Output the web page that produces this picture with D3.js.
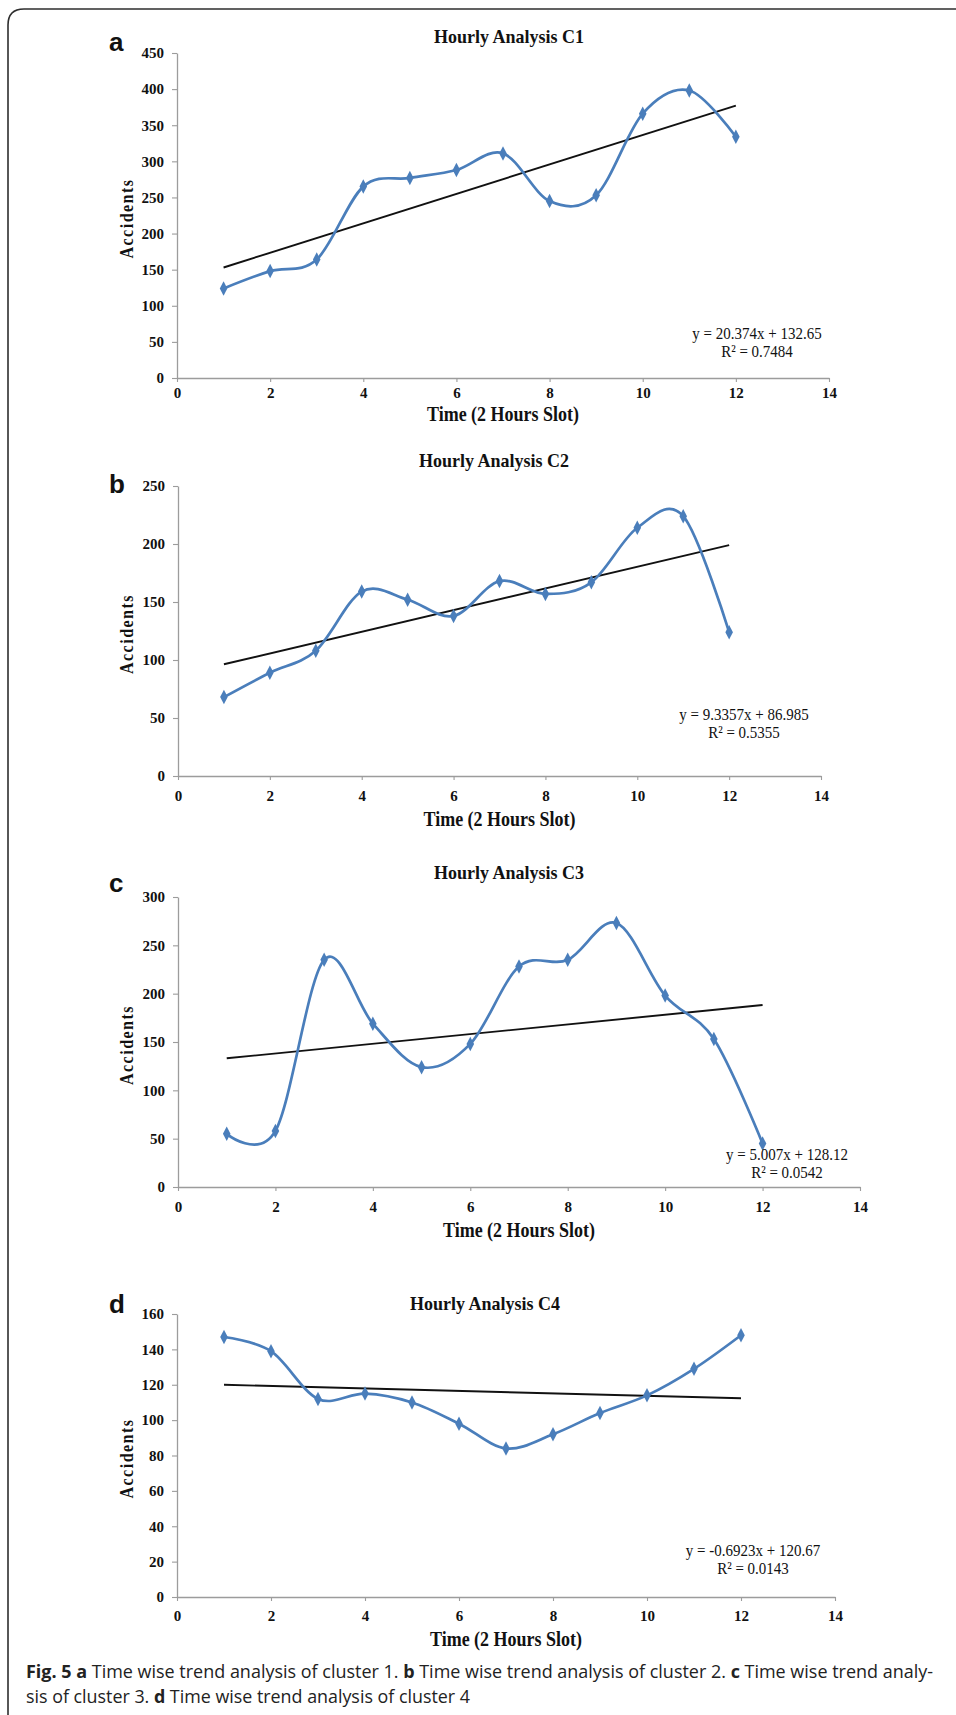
<!DOCTYPE html>
<html>
<head>
<meta charset="utf-8">
<script src="https://cdn.jsdelivr.net/npm/d3@7"></script>
<style>
  html, body { margin: 0; padding: 0; background: #fff; }
  svg { display: block; }
</style>
</head>
<body>
<svg id="chart" width="956" height="1715"></svg>
<script>
// ---------------- DATA ----------------
const slots = [1, 2, 3, 4, 5, 6, 7, 8, 9, 10, 11, 12];
const cluster1 = [124, 148, 164, 265, 277, 288, 311, 245, 253, 366, 398, 334];
const cluster2 = [68, 89, 108, 159, 152, 138, 168, 157, 167, 214, 224, 124];
const cluster3 = [55, 58, 235, 169, 124, 148, 228, 235, 273, 198, 153, 45];
const cluster4 = [147, 139, 112, 115, 110, 98, 84, 92, 104, 114, 129, 148];

const trendSlopes = [20.374, 9.3357, 5.007, -0.6923];
const trendIntercepts = [132.65, 86.985, 128.12, 120.67];
const equationLabels = ["y = 20.374x + 132.65", "y = 9.3357x + 86.985", "y = 5.007x + 128.12", "y = -0.6923x + 120.67"];
const r2Labels = ["R² = 0.7484", "R² = 0.5355", "R² = 0.0542", "R² = 0.0143"];

const panelLetters = ["a", "b", "c", "d"];
const panelTitles = ["Hourly Analysis C1", "Hourly Analysis C2", "Hourly Analysis C3", "Hourly Analysis C4"];
const xTicks = [0, 2, 4, 6, 8, 10, 12, 14];
const yTicks1 = [0, 50, 100, 150, 200, 250, 300, 350, 400, 450];
const yTicks2 = [0, 50, 100, 150, 200, 250];
const yTicks3 = [0, 50, 100, 150, 200, 250, 300];
const yTicks4 = [0, 20, 40, 60, 80, 100, 120, 140, 160];
const xTitle = "Time (2 Hours Slot)";
const yTitle = "Accidents";

const series = [cluster1, cluster2, cluster3, cluster4];
const yTickSets = [yTicks1, yTicks2, yTicks3, yTicks4];

// ---------------- LAYOUT (pixel geometry) ----------------
const layout = [
  { left: 177, right: 829, top: 53,   bottom: 378,  titleX: 509, titleY: 36,   letterY: 51,   eqX: 757, eqY: 333,  xLabPad: 5,  xTitleY: 414 },
  { left: 178, right: 821, top: 486,  bottom: 776,  titleX: 494, titleY: 460,  letterY: 493,  eqX: 744, eqY: 714,  xLabPad: 10, xTitleY: 819 },
  { left: 178, right: 860, top: 897,  bottom: 1187, titleX: 509, titleY: 872,  letterY: 892,  eqX: 787, eqY: 1154, xLabPad: 10, xTitleY: 1230 },
  { left: 177, right: 835, top: 1314, bottom: 1597, titleX: 485, titleY: 1303, letterY: 1313, eqX: 753, eqY: 1550, xLabPad: 9,  xTitleY: 1639 }
];

const BLUE = "#4a7ebb";
const AXIS = "#9c9c9c";
const SERIF = "'Liberation Serif', 'Times New Roman', 'DejaVu Serif', serif";
const SANS = "'Liberation Sans', Arial, 'DejaVu Sans', sans-serif";

const svg = d3.select("#chart");

// frame
svg.append("path")
  .attr("d", "M8,1715 V25 Q8,9 24,9 H956")
  .attr("fill", "none")
  .attr("stroke", "#2e2e2e")
  .attr("stroke-width", 1.6);

function stretchedText(parent, x, y, sy, txt) {
  return parent.append("text")
    .attr("transform", `translate(${x},${y}) scale(1,${sy})`)
    .attr("dy", "0.35em")
    .text(txt);
}

layout.forEach((L, i) => {
  const data = series[i];
  const yT = yTickSets[i];
  const x = d3.scaleLinear().domain([0, 14]).range([L.left, L.right]);
  const y = d3.scaleLinear().domain([0, yT[yT.length - 1]]).range([L.bottom, L.top]);
  const g = svg.append("g");

  // y axis
  const ya = g.append("g")
    .attr("transform", `translate(${L.left},0)`)
    .call(d3.axisLeft(y).tickValues(yT).tickSize(5).tickSizeOuter(0).tickPadding(8).tickFormat(d3.format("d")));
  // x axis
  const xa = g.append("g")
    .attr("transform", `translate(0,${L.bottom})`)
    .call(d3.axisBottom(x).tickValues(xTicks).tickSize(4).tickSizeOuter(0).tickPadding(L.xLabPad).tickFormat(d3.format("d")));
  [ya, xa].forEach(a => {
    a.select(".domain").attr("stroke", AXIS).attr("stroke-width", 1.3);
    a.selectAll(".tick line").attr("stroke", AXIS).attr("stroke-width", 1.1);
    a.selectAll(".tick text")
      .attr("fill", "#111")
      .style("font-family", SERIF)
      .style("font-weight", "bold")
      .style("font-size", "15px");
  });

  // trend line
  const tx = [slots[0], slots[slots.length - 1]];
  g.append("line")
    .attr("x1", x(tx[0])).attr("y1", y(trendSlopes[i] * tx[0] + trendIntercepts[i]))
    .attr("x2", x(tx[1])).attr("y2", y(trendSlopes[i] * tx[1] + trendIntercepts[i]))
    .attr("stroke", "#111").attr("stroke-width", 1.9);

  // smoothed series
  const pts = slots.map((s, k) => [s, data[k]]);
  const line = d3.line().x(d => x(d[0])).y(d => y(d[1])).curve(d3.curveCardinal.tension(0));
  g.append("path")
    .attr("d", line(pts))
    .attr("fill", "none")
    .attr("stroke", BLUE)
    .attr("stroke-width", 2.7);

  // markers
  g.selectAll("path.mk").data(pts).enter().append("path")
    .attr("class", "mk")
    .attr("d", d3.symbol().type(d3.symbolDiamond).size(55))
    .attr("transform", d => `translate(${x(d[0])},${y(d[1])}) scale(0.95,1.05)`)
    .attr("fill", BLUE);

  // title
  stretchedText(g, L.titleX, L.titleY, 1.1, panelTitles[i])
    .attr("text-anchor", "middle")
    .style("font-family", SERIF).style("font-weight", "bold").style("font-size", "18px")
    .attr("fill", "#111");

  // panel letter
  g.append("text")
    .attr("x", 109).attr("y", L.letterY)
    .style("font-family", SANS).style("font-weight", "bold").style("font-size", "26px")
    .attr("fill", "#111")
    .text(panelLetters[i]);

  // x title
  stretchedText(g, (L.left + L.right) / 2, L.xTitleY, 1.15, xTitle)
    .attr("text-anchor", "middle")
    .style("font-family", SERIF).style("font-weight", "bold").style("font-size", "18px")
    .attr("fill", "#111");

  // y title
  const yc = (L.top + L.bottom) / 2 + 3;
  g.append("text")
    .attr("transform", `translate(126,${yc}) rotate(-90) scale(1,1.2)`)
    .attr("dy", "0.35em")
    .attr("text-anchor", "middle")
    .style("font-family", SERIF).style("font-weight", "bold").style("font-size", "16px")
    .style("letter-spacing", "1.5px")
    .attr("fill", "#111")
    .text(yTitle);

  // equation
  stretchedText(g, L.eqX, L.eqY, 1.15, equationLabels[i])
    .attr("text-anchor", "middle")
    .style("font-family", SERIF).style("font-size", "15px")
    .attr("fill", "#111");
  stretchedText(g, L.eqX, L.eqY + 18, 1.15, r2Labels[i])
    .attr("text-anchor", "middle")
    .style("font-family", SERIF).style("font-size", "15px")
    .attr("fill", "#111");
});

// caption
const capLine1 = [
  { t: "Fig. 5  ", b: true }, { t: "a", b: true }, { t: " Time wise trend analysis of cluster 1. ", b: false },
  { t: "b", b: true }, { t: " Time wise trend analysis of cluster 2. ", b: false },
  { t: "c", b: true }, { t: " Time wise trend analy-", b: false }
];
const capLine2 = [
  { t: "sis of cluster 3. ", b: false }, { t: "d", b: true }, { t: " Time wise trend analysis of cluster 4", b: false }
];
function caption(parts, yPos, width) {
  const t = svg.append("text")
    .attr("x", 26).attr("y", yPos).attr("dy", "0.35em")
    .attr("textLength", width).attr("lengthAdjust", "spacingAndGlyphs")
    .style("font-family", "'Open Sans', 'Noto Sans', sans-serif")
    .style("font-size", "18px")
    .attr("fill", "#222");
  parts.forEach(p => {
    t.append("tspan").style("font-weight", p.b ? "bold" : "normal").text(p.t);
  });
}
caption(capLine1, 1672, 907);
caption(capLine2, 1697, 444);
</script>
</body>
</html>
